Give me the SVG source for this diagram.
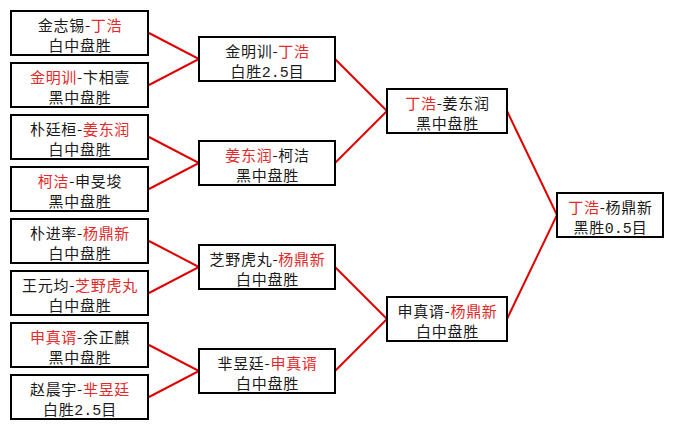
<svg xmlns="http://www.w3.org/2000/svg" width="673" height="429" viewBox="0 0 673 429">
<style>
.box{fill:#fff;stroke:#000;stroke-width:2}
.t{font-family:"Noto Sans CJK SC","Liberation Sans",sans-serif;font-size:15px;letter-spacing:0.7px;fill:#1a1a1a;text-anchor:middle}
.r{fill:#e42a2a}
.n{font-family:"Liberation Mono","Noto Sans CJK SC",monospace;letter-spacing:0}
.link{fill:none;stroke:#e00000;stroke-width:2}
</style>
<rect x="0" y="0" width="673" height="429" fill="#fff"/>
<g id="connectors">
<polyline class="link" points="149,33 199,59 149,85"/>
<polyline class="link" points="149,137 199,163 149,189"/>
<polyline class="link" points="149,241 199,267 149,293"/>
<polyline class="link" points="149,345 199,371 149,397"/>
<polyline class="link" points="335,59 387,111 335,163"/>
<polyline class="link" points="335,267 387,319 335,371"/>
<polyline class="link" points="507,111 557,215 507,319"/>
</g>
<g id="n1"><rect class="box" x="11" y="11" width="137" height="44"/>
<text class="t" x="80" y="31">金志锡-<tspan class="r">丁浩</tspan></text><text class="t" x="80" y="51">白中盘胜</text></g>
<g id="n2"><rect class="box" x="11" y="63" width="137" height="44"/>
<text class="t" x="80" y="83"><tspan class="r">金明训</tspan>-卞相壹</text><text class="t" x="80" y="103">黑中盘胜</text></g>
<g id="n3"><rect class="box" x="11" y="115" width="137" height="44"/>
<text class="t" x="80" y="135">朴廷桓-<tspan class="r">姜东润</tspan></text><text class="t" x="80" y="155">白中盘胜</text></g>
<g id="n4"><rect class="box" x="11" y="167" width="137" height="44"/>
<text class="t" x="80" y="187"><tspan class="r">柯洁</tspan>-申旻埈</text><text class="t" x="80" y="207">黑中盘胜</text></g>
<g id="n5"><rect class="box" x="11" y="219" width="137" height="44"/>
<text class="t" x="80" y="239">朴进率-<tspan class="r">杨鼎新</tspan></text><text class="t" x="80" y="259">白中盘胜</text></g>
<g id="n6"><rect class="box" x="11" y="271" width="137" height="44"/>
<text class="t" x="80" y="291">王元均-<tspan class="r">芝野虎丸</tspan></text><text class="t" x="80" y="311">白中盘胜</text></g>
<g id="n7"><rect class="box" x="11" y="323" width="137" height="44"/>
<text class="t" x="80" y="343"><tspan class="r">申真谞</tspan>-余正麒</text><text class="t" x="80" y="363">黑中盘胜</text></g>
<g id="n8"><rect class="box" x="11" y="375" width="137" height="44"/>
<text class="t" x="80" y="395">赵晨宇-<tspan class="r">芈昱廷</tspan></text><text class="t" x="80" y="415">白胜<tspan class="n">2.5</tspan>目</text></g>
<g id="r2a"><rect class="box" x="199" y="37" width="136" height="44"/>
<text class="t" x="267.5" y="57">金明训-<tspan class="r">丁浩</tspan></text><text class="t" x="267.5" y="77">白胜<tspan class="n">2.5</tspan>目</text></g>
<g id="r2b"><rect class="box" x="199" y="141" width="136" height="44"/>
<text class="t" x="267.5" y="161"><tspan class="r">姜东润</tspan>-柯洁</text><text class="t" x="267.5" y="181">黑中盘胜</text></g>
<g id="r2c"><rect class="box" x="199" y="245" width="136" height="44"/>
<text class="t" x="267.5" y="265">芝野虎丸-<tspan class="r">杨鼎新</tspan></text><text class="t" x="267.5" y="285">白中盘胜</text></g>
<g id="r2d"><rect class="box" x="199" y="349" width="136" height="44"/>
<text class="t" x="267.5" y="369">芈昱廷-<tspan class="r">申真谞</tspan></text><text class="t" x="267.5" y="389">白中盘胜</text></g>
<g id="r3a"><rect class="box" x="387" y="89" width="120" height="44"/>
<text class="t" x="447.5" y="109"><tspan class="r">丁浩</tspan>-姜东润</text><text class="t" x="447.5" y="129">黑中盘胜</text></g>
<g id="r3b"><rect class="box" x="387" y="297" width="120" height="44"/>
<text class="t" x="447.5" y="317">申真谞-<tspan class="r">杨鼎新</tspan></text><text class="t" x="447.5" y="337">白中盘胜</text></g>
<g id="final"><rect class="box" x="557" y="193" width="106" height="44"/>
<text class="t" x="610.5" y="213"><tspan class="r">丁浩</tspan>-杨鼎新</text><text class="t" x="610.5" y="233">黑胜<tspan class="n">0.5</tspan>目</text></g>
</svg>
